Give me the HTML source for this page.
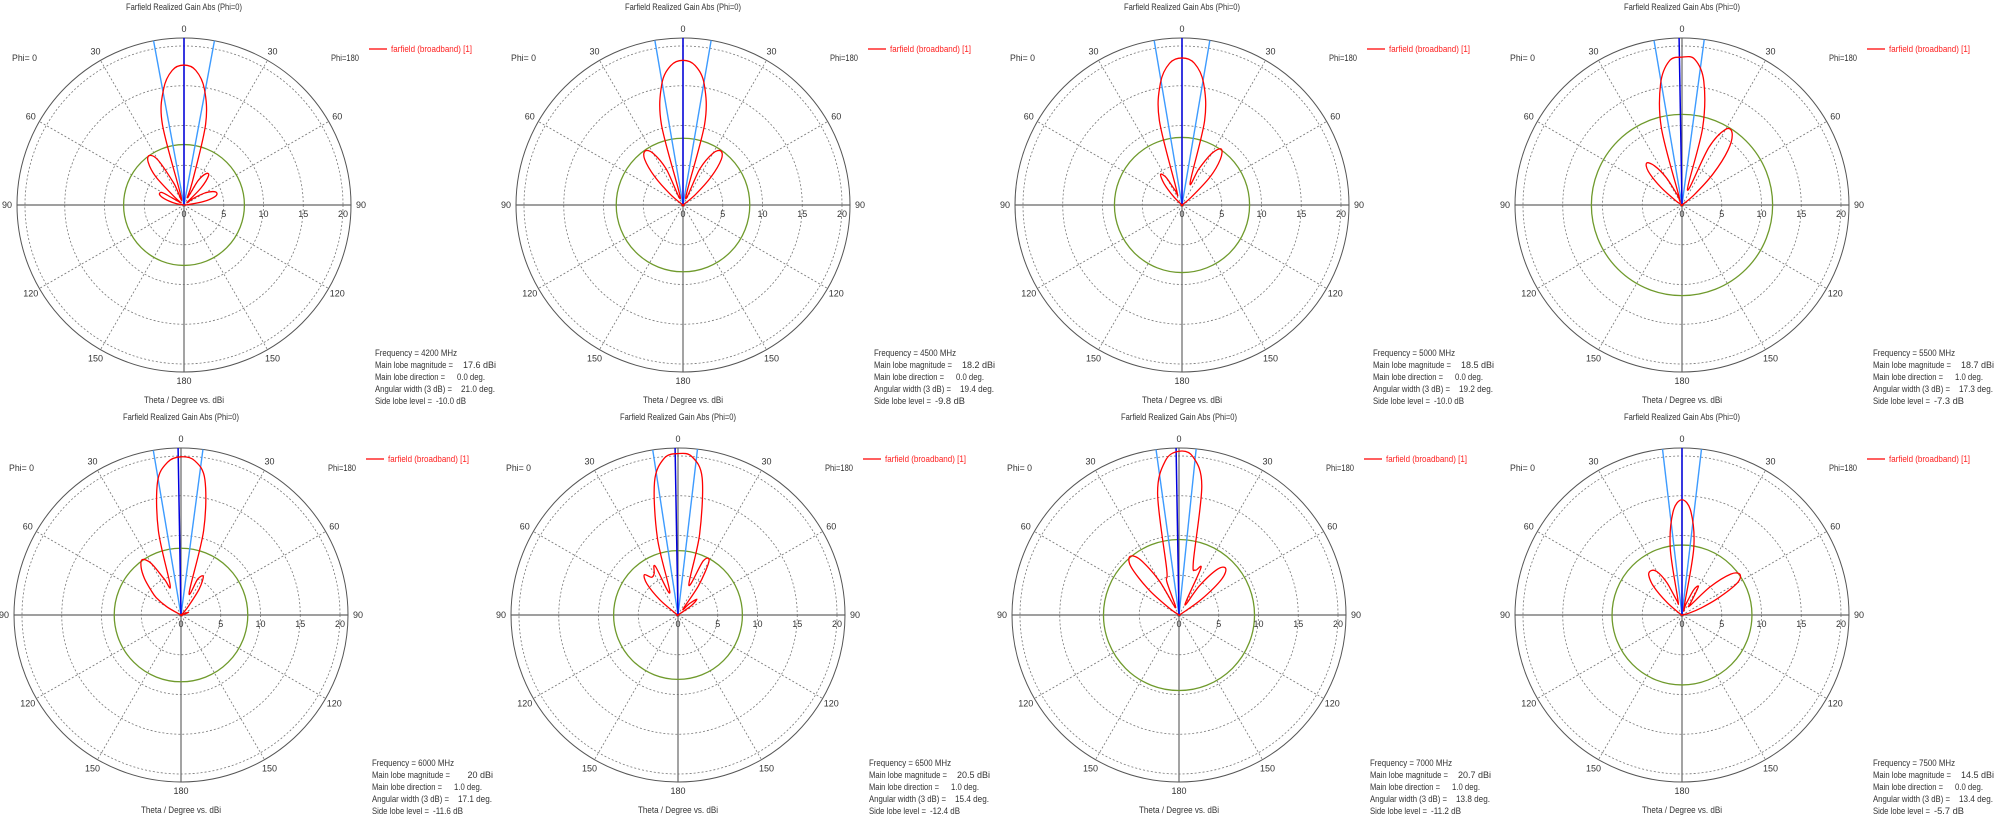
<!DOCTYPE html>
<html><head><meta charset="utf-8"><style>
html,body{margin:0;padding:0;background:#fff;}
svg{display:block;font-family:"Liberation Sans",sans-serif;}
</style></head><body>
<svg id="chart" width="2000" height="818" viewBox="0 0 2000 818" xmlns="http://www.w3.org/2000/svg"></svg>
<script>
const thetas = [0,5,10,15,20,25,30,35,40,45,50,55,60,65,70,75,80,85,90];
const freqs = [4200,4500,5000,5500,6000,6500,7000,7500];
const mainMag = [17.6,18.2,18.5,18.7,20,20.5,20.7,14.5];
const mainMagTxt = ["17.6","18.2","18.5","18.7","20","20.5","20.7","14.5"];
const mainDir = [0,0,0,1,1,1,1,0];
const angWidth = [21.0,19.4,19.2,17.3,17.1,15.4,13.8,13.4];
const sideLobe = [-10.0,-9.8,-10.0,-7.3,-11.6,-12.4,-11.2,-5.7];
// Phi=0 side (left) gain in dBi per theta
const leftGain = [
 [17.6,17.0,14.8,10.5,1,3,6.5,7.6,7,5,1.5,0.5,3,3.4,3,2,1,0,0],
 [18.2,17.6,15.4,10.5,1,5,7.5,8.3,7.5,5,2,0,0,0,0,0,0,0,0],
 [18.5,17.9,15.6,11,2,2,4,4.7,3.5,1.5,0,0,0,0,0,0,0,0,0],
 [18.6,18.2,15.5,10,1,1.5,4,6,6.9,6,3.5,1,0,0,0,0,0,0,0],
 [19.9,19.3,17,11,4,5,7.5,8.5,7.8,6.5,5,3.8,2,0,0,0,0,0,0],
 [20.3,19.8,17,10,3,6.8,6,5.8,6.6,5.5,3,0.5,0,0,0,0,0,0,0],
 [20.6,19.5,15.5,6,4.5,1,5,8.5,9.6,8.5,5,1.5,0,0,0,0,0,0,0],
 [14.5,13,8.5,2,2,4.5,6.3,6.8,6.5,5,2.5,0.5,0,0,0,0,0,0,0]
];
// Phi=180 side (right) gain in dBi per theta
const rightGain = [
 [17.6,17.0,14.8,10.5,3,1,3.5,4.8,4.8,3,0.5,1.5,3,4,4.4,4,2.5,0.5,0],
 [18.2,17.6,15.4,10.5,1,5,7.5,8.3,7.5,5,2,0,0,0,0,0,0,0,0],
 [18.5,17.9,15.6,11,3,5,7.5,8.6,7.5,5,1.5,0,0,0,0,0,0,0,0],
 [18.7,18.4,15.8,10,2,8,11,11,9,5.5,2,0,0,0,0,0,0,0,0],
 [20,19.5,17.3,11,3,5,5.6,4,1.5,0.5,0,0,0,0,1,0.5,0,0,0],
 [20.5,20,17.5,10.5,4,7.5,7.8,4.5,1,2,3.1,2,0,0,0,0,0,0,0],
 [20.7,20,16.5,7,6,6.5,1.5,4.5,7.5,8.3,7,3.5,0.5,0,0,0,0,0,0],
 [14.5,13,8.5,1,1.5,3.5,4.1,2,1.5,5,8,8.9,8,5,2.5,1,0,0,0]
];
const dbTicks = [0,5,10,15,20];
const angLabels = [30,60,90,120,150];

const svg = document.getElementById('chart');
const NS = 'http://www.w3.org/2000/svg';
const K = 7.95, R = 167;
const centers = [[184,205],[683,205],[1182,205],[1682,205],[181,615],[678,615],[1179,615],[1682,615]];
function mk(tag, attrs, parent){
  const e = document.createElementNS(NS, tag);
  for (const k in attrs) e.setAttribute(k, attrs[k]);
  (parent||svg).appendChild(e); return e;
}
function txt(parent, x, y, s, opts){
  const t = mk('text', Object.assign({x:x, y:y, 'font-size':9, fill:'#333'}, opts||{}), parent);
  t.textContent = s; return t;
}
function fit(w){ return {textLength:w, lengthAdjust:'spacingAndGlyphs'}; }
const rScale = v => Math.max(0, v) * K;

freqs.forEach((f, i) => {
  const [cx, cy] = centers[i];
  const g = mk('g', {});
  
  
  const ti = txt(g, cx, cy-195, 'Farfield Realized Gain Abs (Phi=0)', Object.assign({'text-anchor':'middle'}, fit(116)));
  
  
  dbTicks.slice(1).forEach(d => {
    const c = mk('circle', {cx:cx, cy:cy, r:rScale(d), fill:'none', stroke:'#777', 'stroke-width':0.8, 'stroke-dasharray':'2,2'}, g);
    
    
  });
  angLabels.forEach(a => {
    if (a === 90) return;
    [-1,1].forEach(s => {
      const rad = a*Math.PI/180;
      const l = mk('line', {x1:cx, y1:cy, x2:cx + s*R*Math.sin(rad), y2:cy - R*Math.cos(rad), stroke:'#777', 'stroke-width':0.8, 'stroke-dasharray':'2,2'}, g);
      
      
    });
  });
  const hx = mk('line', {x1:cx-R, y1:cy, x2:cx+R, y2:cy, stroke:'#666', 'stroke-width':1.2}, g);
  
  
  const vx = mk('line', {x1:cx, y1:cy-R, x2:cx, y2:cy+R, stroke:'#666', 'stroke-width':1.2}, g);
  
  
  const oc = mk('circle', {cx:cx, cy:cy, r:R, fill:'none', stroke:'#555', 'stroke-width':1}, g);
  
  
  const gc = mk('circle', {cx:cx, cy:cy, r:rScale(mainMag[i]+sideLobe[i]), fill:'none', stroke:'#6f9a2c', 'stroke-width':1.3}, g);
  
  
  [mainDir[i]-angWidth[i]/2, mainDir[i]+angWidth[i]/2].forEach(a => {
    const rad = a*Math.PI/180;
    const l = mk('line', {x1:cx, y1:cy, x2:cx - R*Math.sin(rad), y2:cy - R*Math.cos(rad), stroke:'#3d9bff', 'stroke-width':1.4}, g);
    
    
  });
  const dr = mainDir[i]*Math.PI/180;
  const ml = mk('line', {x1:cx, y1:cy, x2:cx - R*Math.sin(dr), y2:cy - R*Math.cos(dr), stroke:'#0000e0', 'stroke-width':1.5}, g);
  
  
  const pts = [];
  for (let j = thetas.length-1; j >= 0; j--) {
    const rad = thetas[j]*Math.PI/180, r = rScale(leftGain[i][j]);
    pts.push([cx - r*Math.sin(rad), cy - r*Math.cos(rad)]);
  }
  for (let j = 1; j < thetas.length; j++) {
    const rad = thetas[j]*Math.PI/180, r = rScale(rightGain[i][j]);
    pts.push([cx + r*Math.sin(rad), cy - r*Math.cos(rad)]);
  }
  let d = 'M' + pts[0][0].toFixed(2) + ',' + pts[0][1].toFixed(2);
  for (let j = 0; j < pts.length-1; j++) {
    const p0 = pts[Math.max(0,j-1)], p1 = pts[j], p2 = pts[j+1], p3 = pts[Math.min(pts.length-1,j+2)];
    const c1 = [p1[0]+(p2[0]-p0[0])/6, p1[1]+(p2[1]-p0[1])/6];
    const c2 = [p2[0]-(p3[0]-p1[0])/6, p2[1]-(p3[1]-p1[1])/6];
    d += ' C' + c1[0].toFixed(2)+','+c1[1].toFixed(2)+' '+c2[0].toFixed(2)+','+c2[1].toFixed(2)+' '+p2[0].toFixed(2)+','+p2[1].toFixed(2);
  }
  const pat = mk('path', {d:d, fill:'none', stroke:'#ff0000', 'stroke-width':1.3, 'stroke-linejoin':'round'}, g);
  
  
  txt(g, cx, cy-173, '0', {'text-anchor':'middle'});
  txt(g, cx, cy+179, '180', {'text-anchor':'middle'});
  angLabels.forEach(a => {
    const rad = a*Math.PI/180;
    [-1,1].forEach(s => {
      const t = txt(g, cx + s*177*Math.sin(rad), cy - 177*Math.cos(rad) + 3, String(a), {'text-anchor':'middle'});
      
      
    });
  });
  dbTicks.forEach(v => {
    const t = txt(g, cx + rScale(v), cy + 12, String(v), {'text-anchor':'middle'});
    
    
  });
  txt(g, cx-172, cy-144, 'Phi=  0', fit(25));
  txt(g, cx+147, cy-144, 'Phi=180', fit(28));
  const xt = txt(g, cx, cy+198, 'Theta / Degree vs. dBi', Object.assign({'text-anchor':'middle'}, fit(80)));
  
  
  const lg = mk('g', {}, g);
  
  
  mk('line', {x1:cx+185, y1:cy-156, x2:cx+203, y2:cy-156, stroke:'#ff0000', 'stroke-width':1.3}, lg);
  txt(lg, cx+207, cy-153, 'farfield (broadband) [1]', Object.assign({fill:'#ff2020'}, fit(81)));
  const ib = mk('g', {}, g);
  
  
  const bx = cx + 191, by = cy + 151;
  txt(ib, bx, by, 'Frequency = ' + f + ' MHz', fit(82));
  txt(ib, bx, by+12, 'Main lobe magnitude =', fit(78));
  txt(ib, bx+121, by+12, mainMagTxt[i] + ' dBi', {'text-anchor':'end'});
  txt(ib, bx, by+24, 'Main lobe direction =', fit(70));
  txt(ib, bx+82, by+24, mainDir[i].toFixed(1) + ' deg.', fit(28));
  txt(ib, bx, by+36, 'Angular width (3 dB) =', fit(77));
  txt(ib, bx+86, by+36, angWidth[i].toFixed(1) + ' deg.', fit(34));
  txt(ib, bx, by+48, 'Side lobe level =', fit(57));
  txt(ib, bx+61, by+48, sideLobe[i].toFixed(1) + ' dB', fit(30));
});
</script>
</body></html>
